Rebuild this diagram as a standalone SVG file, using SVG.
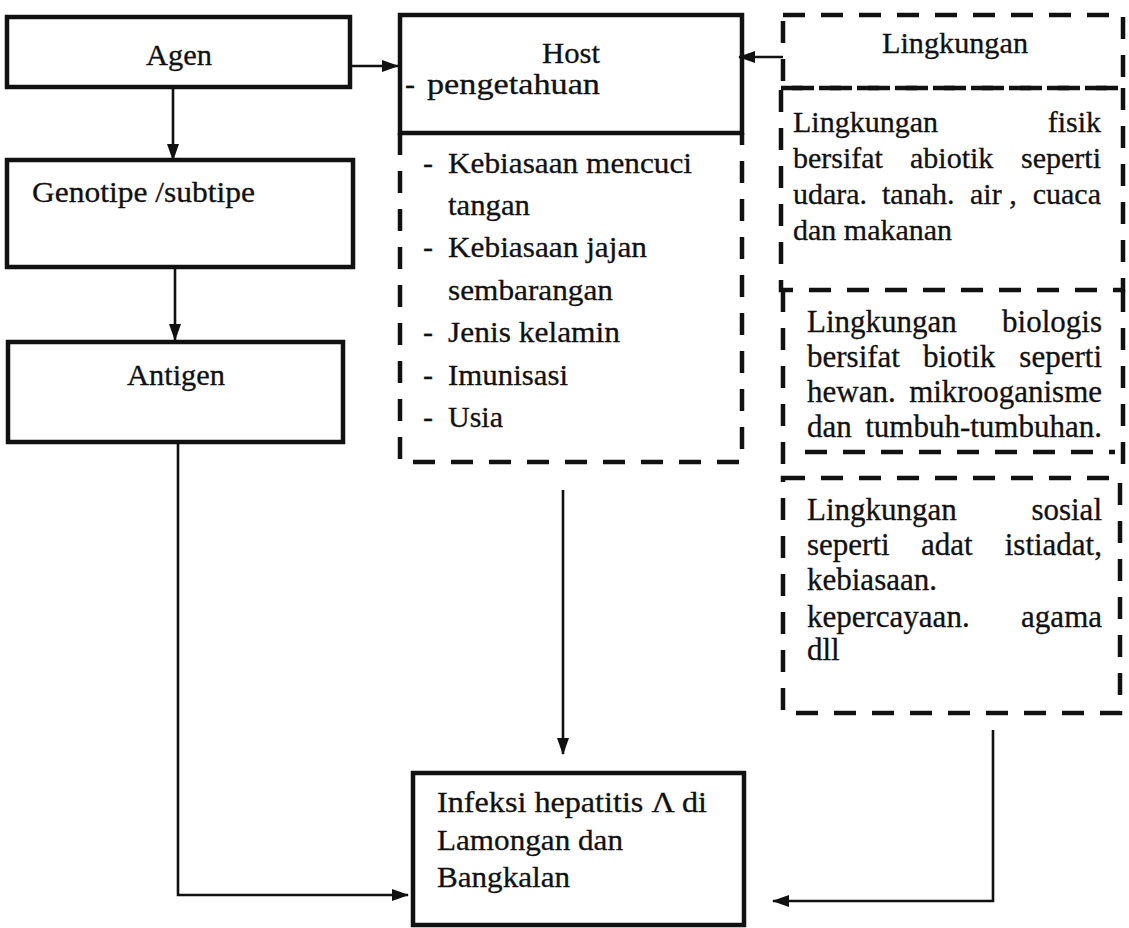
<svg xmlns="http://www.w3.org/2000/svg" width="1129" height="928" viewBox="0 0 1129 928">
<style>
text{font-family:"Liberation Serif","Times New Roman",serif;fill:#111;stroke:#111;stroke-width:0.3;}
.t{font-size:30px;}
.f{font-size:30px;}
.r{font-size:31px;}
.box{fill:none;stroke:#111;stroke-width:4.5;}
.dash{fill:none;stroke:#111;stroke-width:4.5;stroke-dasharray:22 16;}
.con{fill:none;stroke:#111;stroke-width:2.6;}
.e{text-anchor:end;}
.m{text-anchor:middle;}
</style>
<defs>
<marker id="ah" markerUnits="userSpaceOnUse" markerWidth="18" markerHeight="14" refX="16" refY="7" orient="auto">
<path d="M0,1 L17,7 L0,13 Z" fill="#111"/>
</marker>
</defs>
<rect width="1129" height="928" fill="#fff"/>

<g id="connectors">
<path class="con" d="M351,66 H398" marker-end="url(#ah)"/>
<path class="con" d="M783,57 H739" marker-end="url(#ah)"/>
<path class="con" d="M173,88 V160" marker-end="url(#ah)"/>
<path class="con" d="M175,268 V340" marker-end="url(#ah)"/>
<path class="con" d="M178,443 V895 H408" marker-end="url(#ah)"/>
<path class="con" d="M563,490 V754" marker-end="url(#ah)"/>
<path class="con" d="M993,730 V901 H773" marker-end="url(#ah)"/>
</g>

<g id="agen">
<rect class="box" x="7" y="17" width="343" height="70"/>
<text class="t m" x="179" y="65" textLength="66" lengthAdjust="spacingAndGlyphs">Agen</text>
</g>

<g id="genotipe">
<rect class="box" x="7" y="160" width="346" height="107"/>
<text class="t" x="32" y="202" textLength="223" lengthAdjust="spacingAndGlyphs">Genotipe /subtipe</text>
</g>

<g id="antigen">
<rect class="box" x="8" y="342" width="335" height="100"/>
<text class="t m" x="176" y="385" textLength="98" lengthAdjust="spacingAndGlyphs">Antigen</text>
</g>

<g id="host">
<rect class="box" x="400" y="15" width="342" height="118"/>
<text class="t m" x="571" y="63" textLength="58" lengthAdjust="spacingAndGlyphs">Host</text>
<text class="t" x="405" y="94">-</text>
<text class="t" x="427" y="94" textLength="173" lengthAdjust="spacingAndGlyphs">pengetahuan</text>
</g>

<g id="host-faktor">
<path class="dash" d="M400,133 V462 H742 V133"/>
<text class="t" x="423" y="173">-</text>
<text class="t" x="448" y="173" textLength="244" lengthAdjust="spacingAndGlyphs">Kebiasaan mencuci</text>
<text class="t" x="448" y="215" textLength="82" lengthAdjust="spacingAndGlyphs">tangan</text>
<text class="t" x="423" y="257">-</text>
<text class="t" x="448" y="257" textLength="199" lengthAdjust="spacingAndGlyphs">Kebiasaan jajan</text>
<text class="t" x="448" y="300" textLength="165" lengthAdjust="spacingAndGlyphs">sembarangan</text>
<text class="t" x="423" y="342">-</text>
<text class="t" x="448" y="342" textLength="172" lengthAdjust="spacingAndGlyphs">Jenis kelamin</text>
<text class="t" x="423" y="385">-</text>
<text class="t" x="448" y="385" textLength="120" lengthAdjust="spacingAndGlyphs">Imunisasi</text>
<text class="t" x="423" y="427">-</text>
<text class="t" x="448" y="427" textLength="55" lengthAdjust="spacingAndGlyphs">Usia</text>
</g>

<g id="lingkungan">
<rect class="dash" x="783" y="15" width="340" height="73"/>
<text class="t m" x="955" y="53" textLength="146" lengthAdjust="spacingAndGlyphs">Lingkungan</text>
</g>

<g id="fisik">
<rect class="dash" x="781" y="88" width="342" height="202"/>
<text class="f" x="793" y="132">Lingkungan</text>
<text class="f e" x="1101" y="132">fisik</text>
<text class="f" x="793" y="168">bersifat</text>
<text class="f" x="910" y="168">abiotik</text>
<text class="f e" x="1101" y="168">seperti</text>
<text class="f" x="793" y="204">udara.</text>
<text class="f" x="882" y="204">tanah.</text>
<text class="f" x="970" y="204">air ,</text>
<text class="f e" x="1101" y="204">cuaca</text>
<text class="f" x="793" y="240">dan makanan</text>
</g>

<g id="biologis">
<path class="dash" d="M783,290 V478 M1123,290 V478 M805,452 H1115"/>
<text class="r" x="807" y="332">Lingkungan</text>
<text class="r e" x="1102" y="332">biologis</text>
<text class="r" x="807" y="367">bersifat</text>
<text class="r" x="923" y="367">biotik</text>
<text class="r e" x="1102" y="367">seperti</text>
<text class="r" x="807" y="402">hewan.</text>
<text class="r e" x="1102" y="402">mikrooganisme</text>
<text class="r" x="807" y="437">dan</text>
<text class="r e" x="1102" y="437">tumbuh-tumbuhan.</text>
</g>

<g id="sosial">
<rect class="dash" x="783" y="478" width="337" height="235"/>
<text class="r" x="807" y="520">Lingkungan</text>
<text class="r e" x="1102" y="520">sosial</text>
<text class="r" x="807" y="555">seperti</text>
<text class="r" x="921" y="555">adat</text>
<text class="r e" x="1102" y="555">istiadat,</text>
<text class="r" x="807" y="590">kebiasaan.</text>
<text class="r" x="807" y="627">kepercayaan.</text>
<text class="r e" x="1102" y="627">agama</text>
<text class="r" x="807" y="660">dll</text>
</g>

<g id="infeksi">
<rect class="box" x="413" y="773" width="331" height="152"/>
<text class="t" x="437" y="812" textLength="270" lengthAdjust="spacingAndGlyphs">Infeksi hepatitis Λ di</text>
<text class="t" x="437" y="850" textLength="186" lengthAdjust="spacingAndGlyphs">Lamongan dan</text>
<text class="t" x="437" y="887" textLength="133" lengthAdjust="spacingAndGlyphs">Bangkalan</text>
</g>
</svg>
